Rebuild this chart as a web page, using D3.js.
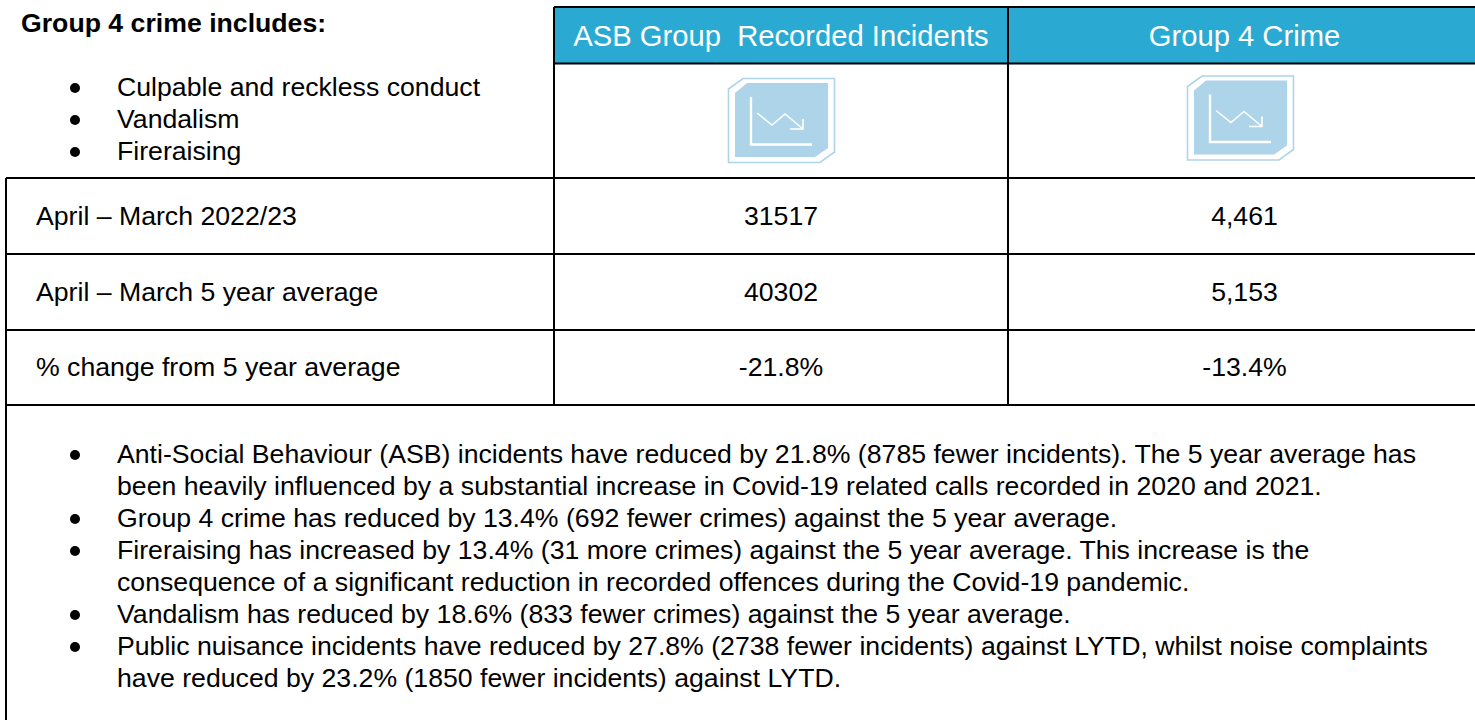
<!DOCTYPE html>
<html>
<head>
<meta charset="utf-8">
<script src="https://cdn.jsdelivr.net/npm/d3@7"></script>
<style>
  html, body { margin: 0; padding: 0; background: #fff; }
  svg { display: block; }
  text { font-family: "Liberation Sans", Arial, sans-serif; fill: #000; white-space: pre; }
</style>
</head>
<body>
<div id="chart"></div>
<script>
const title = 'Group 4 crime includes:';
const includes = ['Culpable and reckless conduct', 'Vandalism', 'Fireraising'];
const columns = ['ASB Group  Recorded Incidents', 'Group 4 Crime'];
const rowLabels = ['April – March 2022/23', 'April – March 5 year average', '% change from 5 year average'];
const asbValues = ['31517', '40302', '-21.8%'];
const group4Values = ['4,461', '5,153', '-13.4%'];
const notes = [
  ['Anti-Social Behaviour (ASB) incidents have reduced by 21.8% (8785 fewer incidents). The 5 year average has',
   'been heavily influenced by a substantial increase in Covid-19 related calls recorded in 2020 and 2021.'],
  ['Group 4 crime has reduced by 13.4% (692 fewer crimes) against the 5 year average.'],
  ['Fireraising has increased by 13.4% (31 more crimes) against the 5 year average. This increase is the',
   'consequence of a significant reduction in recorded offences during the Covid-19 pandemic.'],
  ['Vandalism has reduced by 18.6% (833 fewer crimes) against the 5 year average.'],
  ['Public nuisance incidents have reduced by 27.8% (2738 fewer incidents) against LYTD, whilst noise complaints',
   'have reduced by 23.2% (1850 fewer incidents) against LYTD.']
];

const width = 1475, height = 720;
const headerBlue = '#2aaad3', iconBlue = '#aed4e9';
const bodySize = 26.67, headSize = 29.2, lineStep = 32;

const svg = d3.select('#chart').append('svg')
  .attr('width', width)
  .attr('height', height);

// Column and row positions of the table
const xLines = [554, 1008, width];
const colCentres = [781, 1244.5];
const y = d3.scaleBand().domain(rowLabels).range([178, 405]);

// Header fill
svg.selectAll('rect.head')
  .data(columns)
  .join('rect')
  .attr('class', 'head')
  .attr('x', (d, i) => xLines[i])
  .attr('y', 7)
  .attr('width', (d, i) => xLines[i + 1] - xLines[i])
  .attr('height', 56.5)
  .attr('fill', headerBlue);

svg.selectAll('text.head')
  .data(columns)
  .join('text')
  .attr('class', 'head')
  .attr('x', (d, i) => colCentres[i])
  .attr('y', 46)
  .attr('text-anchor', 'middle')
  .attr('font-size', headSize)
  .style('fill', '#fff')
  .text(d => d);

// Trend icons
const icon = svg.selectAll('g.icon')
  .data([{ x: 728, y: 78 }, { x: 1187, y: 75.5 }])
  .join('g')
  .attr('class', 'icon')
  .attr('transform', d => `translate(${d.x},${d.y})`);
icon.append('path')
  .attr('d', 'M15,0.5 H106.5 V74 L92,84.5 H0.5 V11 Z')
  .attr('fill', '#fff')
  .attr('stroke', iconBlue)
  .attr('stroke-width', 1.6);
icon.append('path')
  .attr('d', 'M19,5 H100 V70 L87,79 H7 V15 Z')
  .attr('fill', iconBlue);
icon.append('path')
  .attr('d', 'M23,19 V66.5 H84')
  .attr('fill', 'none')
  .attr('stroke', '#fff')
  .attr('stroke-width', 2.4);
icon.append('path')
  .attr('d', 'M29,35 L44,47 L57,36 L75,51 M75,41 V51 H62')
  .attr('fill', 'none')
  .attr('stroke', '#fff')
  .attr('stroke-width', 1.6);

// Borders
const rules = [
  [554, 7, width, 7], [554, 63.5, width, 63.5],
  [6, 178, width, 178], [6, 254, width, 254], [6, 330, width, 330], [6, 405, width, 405],
  [554, 7, 554, 405], [1008, 7, 1008, 405], [6, 178, 6, height]
];
svg.selectAll('line')
  .data(rules)
  .join('line')
  .attr('x1', d => d[0])
  .attr('y1', d => d[1])
  .attr('x2', d => d[2])
  .attr('y2', d => d[3])
  .attr('stroke', '#000')
  .attr('stroke-width', 2);

// Top left block
svg.append('text')
  .attr('x', 21)
  .attr('y', 32)
  .attr('font-size', bodySize)
  .attr('font-weight', 'bold')
  .text(title);

const listY = d3.scalePoint().domain(includes).range([96, 160]);
svg.selectAll('text.inc')
  .data(includes)
  .join('text')
  .attr('class', 'inc')
  .attr('x', 117)
  .attr('y', d => listY(d))
  .attr('font-size', bodySize)
  .text(d => d);
svg.selectAll('circle.inc')
  .data(includes)
  .join('circle')
  .attr('class', 'inc')
  .attr('cx', 75)
  .attr('cy', d => listY(d) - 8)
  .attr('r', 5)
  .attr('fill', '#000');

// Table rows
const rows = svg.selectAll('g.row')
  .data(rowLabels)
  .join('g')
  .attr('class', 'row')
  .attr('transform', d => `translate(0,${y(d) + y.bandwidth() / 2 + 9})`);
rows.append('text')
  .attr('x', 36)
  .attr('font-size', bodySize)
  .text(d => d);
rows.append('text')
  .attr('x', colCentres[0])
  .attr('text-anchor', 'middle')
  .attr('font-size', bodySize)
  .text((d, i) => asbValues[i]);
rows.append('text')
  .attr('x', colCentres[1])
  .attr('text-anchor', 'middle')
  .attr('font-size', bodySize)
  .text((d, i) => group4Values[i]);

// Notes, each entry may wrap on two lines
let line = 0;
notes.forEach(parts => {
  const top = 463 + line * lineStep;
  svg.append('circle')
    .attr('cx', 75)
    .attr('cy', top - 8)
    .attr('r', 5)
    .attr('fill', '#000');
  parts.forEach((t, i) => {
    svg.append('text')
      .attr('x', 117)
      .attr('y', top + i * lineStep)
      .attr('font-size', bodySize)
      .text(t);
  });
  line += parts.length;
});
</script>
</body>
</html>
